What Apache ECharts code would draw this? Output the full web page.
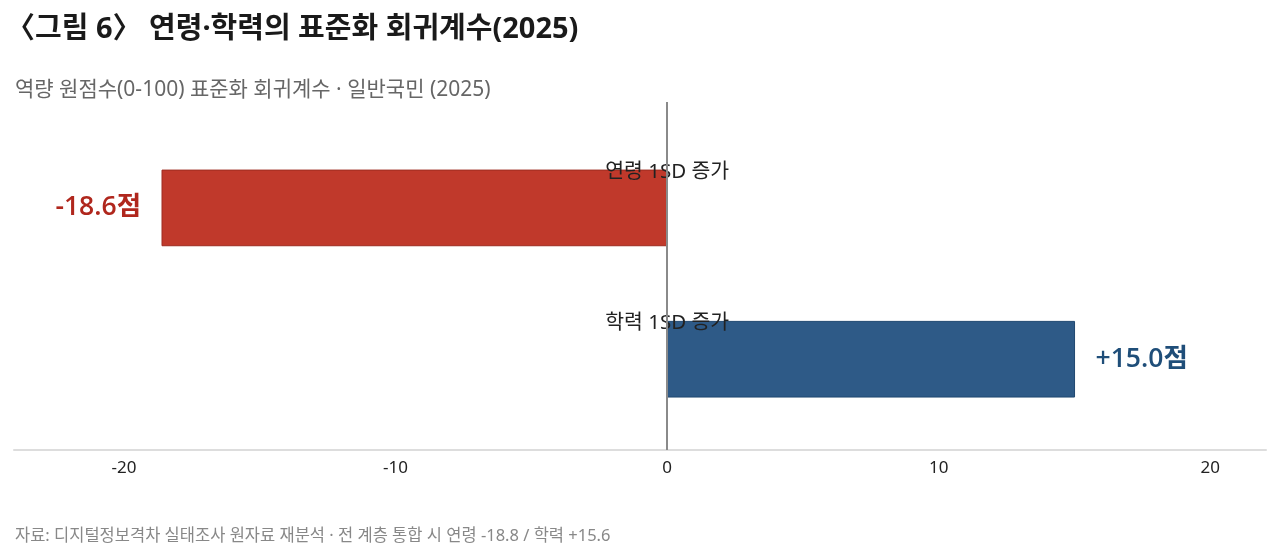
<!DOCTYPE html>
<html>
<head>
<meta charset="utf-8">
<script src="https://cdn.jsdelivr.net/npm/echarts@6/dist/echarts.min.js"></script>
<style>
html,body{margin:0;padding:0;background:#fff;}
#chart{width:1280px;height:557px;}
</style>
</head>
<body>
<div id="chart"></div>
<script>
const categories = ['연령 1SD 증가', '학력 1SD 증가'];
const values = [-18.6, 15.0];
const valueLabels = ['-18.6점', '+15.0점'];
const xTicks = [-20, -10, 0, 10, 20];
const titleText = '〈그림 6〉 연령·학력의 표준화 회귀계수(2025)';
const subtitleText = '역량 원점수(0-100) 표준화 회귀계수 · 일반국민 (2025)';
const footerText = '자료: 디지털정보격차 실태조사 원자료 재분석 · 전 계층 통합 시 연령 -18.8 / 학력 +15.6';

const FONT = '"Noto Sans", "Noto Sans CJK KR", sans-serif';
const FONT_VAL = '"Open Sans", "Noto Sans CJK KR", sans-serif';
const fills = ['#C0392B', '#2E5A87'];
const borders = ['#9E2B20', '#1F4870'];
const labelColors = ['#B0271D', '#1F4E79'];

const chart = echarts.init(document.getElementById('chart'));
chart.setOption({
  backgroundColor: '#fff',
  animation: false,
  title: [
    { text: titleText, left: 1, top: 10, textStyle: { fontFamily: FONT, fontSize: 29, fontWeight: 'bold', color: '#1a1a1a' } },
    { text: subtitleText, left: 10, top: 75, textStyle: { fontFamily: FONT, fontSize: 21, fontWeight: 'normal', color: '#666' } },
    { text: footerText, left: 10, top: 523, textStyle: { fontFamily: FONT, fontSize: 16.5, fontWeight: 'normal', color: '#888' } }
  ],
  grid: { left: 14, right: 14, top: 102, bottom: 107, containLabel: false },
  xAxis: {
    type: 'value', min: -24.05, max: 22.05,
    axisLine: { show: true, onZero: false, lineStyle: { color: '#dddddd', width: 2 } },
    axisTick: { show: false },
    splitLine: { show: false },
    axisLabel: { customValues: xTicks, margin: 10, fontFamily: FONT, fontSize: 17, color: '#222' }
  },
  yAxis: {
    type: 'value', min: -0.7, max: 1.6, inverse: true, show: false
  },
  series: [{
    type: 'custom',
    encode: { x: 0, y: 1 },
    data: values.map((v, i) => [v, i]),
    renderItem: function (params, api) {
      const v = api.value(0), i = api.value(1);
      const p0 = api.coord([0, i]);
      const p1 = api.coord([v, i]);
      const h = api.size([0, 0.5])[1];
      const x = Math.min(p0[0], p1[0]);
      const w = Math.abs(p1[0] - p0[0]);
      const neg = v < 0;
      return {
        type: 'group',
        children: [
          { type: 'rect', shape: { x: x, y: p0[1] - h / 2, width: w, height: h },
            style: { fill: fills[i], stroke: borders[i], lineWidth: 1 } },
          { type: 'text', x: p1[0] + (neg ? -21 : 21), y: p0[1],
            style: { text: valueLabels[i], align: neg ? 'right' : 'left', verticalAlign: 'middle',
              fontFamily: FONT_VAL, fontSize: 26.5, fontWeight: 600, fill: labelColors[i] } },
          { type: 'text', x: p0[0], y: p0[1] - h / 2 + 2, z2: 10,
            style: { text: categories[i], align: 'center', verticalAlign: 'middle',
              fontFamily: FONT, fontSize: 20.5, fill: '#222' } }
        ]
      };
    },
    markLine: {
      silent: true, symbol: 'none', animation: false,
      label: { show: false },
      lineStyle: { color: '#8a8a8a', width: 2, type: 'solid' },
      data: [{ xAxis: 0 }]
    }
  }]
});
</script>
</body>
</html>
